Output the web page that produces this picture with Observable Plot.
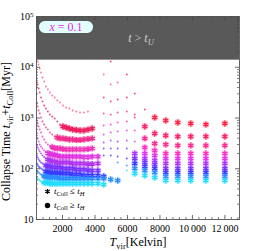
<!DOCTYPE html>
<html><head><meta charset="utf-8">
<script src="https://cdn.jsdelivr.net/npm/d3@7"></script>
<script src="https://cdn.jsdelivr.net/npm/@observablehq/plot@0.6"></script>
<style>
body{margin:0;background:#fff;}
#chart{width:258px;height:251px;}
svg{font-family:"Liberation Serif","DejaVu Serif",serif;}
</style></head><body><div id="chart"></div>
<script>
const _ = null;
// Virial temperature grid [K]
const tVir = [420, 470, 530, 600, 680, 770, 870, 980, 1100, 1230, 1370, 1520, 1680, 1850, 2030, 2220, 2420, 2630, 2850, 3080, 3320, 3570, 3830, 4180, 4540, 4970, 5400, 5960, 6450, 7070, 7680, 8360, 9100, 9900, 10830, 12000];
// t_vir + t_coll [Myr], one array per curve
const serA = [_, 12980, 11330, 9450, 7880, 6280, 5240, 4180, 3645, 3180, 2775, 2535, 2212, 2020, 1763, 1610, 1539, 1405, 1343, 1283, 1283, 1343, _, _, _, _, _, _, _, _, _, _, _, _, _, _];
const serB = [5480, 4570, 3815, 3180, 2535, 2114, 1763, 1539, 1343, 1172, 1070, 977, 853, 744, 680, 650, 621, 593, 580, 567, 567, 593, 621, _, _, _, _, _, _, _, _, _, _, _, _, _];
const serC = [1931, 1685, 1405, 1226, 1023, 853, 744, 650, 593, 518, 473, 432, 413, 395, 395, 386, 377, 377, 369, 369, 377, 386, 395, _, _, _, _, _, _, _, _, _, _, _, _, _];
const serD = [893, 779, 680, 593, 518, 432, 377, 329, 300, 281, 268, 256, 251, 251, 245, 240, 240, 240, 240, 240, 240, 245, 251, _, _, _, _, _, _, _, _, _, _, _, _, _];
const serE = [452, 395, 344, 300, 274, 251, 229, 214, 204, 195, 191, 187, 182, 174, 174, 174, 174, 174, 174, 174, 170, 170, 174, 174, _, _, _, _, _, _, _, _, _, _, _, _];
const serF = [287, 262, 240, 219, 200, 182, 170, 159, 152, 145, 142, 139, 133, 133, 133, 133, 133, 127, 127, 127, 127, 124, 124, 127, _, _, _, _, _, _, _, _, _, _, _, _];
const serG = [182, 167, 152, 142, 133, 127, 121, 116, 113, 111, 108, 106, 106, 106, 101, 101, 101, 101, 96.6, 96.6, 96.6, 94.5, 92.4, 92.4, _, _, _, _, _, _, _, _, _, _, _, _];
const serH = [127, 119, 111, 106, 101, 96.6, 92.4, 88.3, 86.3, 84.4, 82.5, 82.5, 82.5, 82.5, 80.6, 80.6, 80.6, 77.0, 77.0, 77.0, 73.6, 73.6, 73.6, 73.6, 70.4, _, _, _, _, _, _, _, _, _, _, _];
const serI = [92.4, 88.3, 84.4, 80.6, 77.0, 73.6, 72.0, 70.4, 68.8, 67.2, 67.2, 67.2, 67.2, 64.3, 64.3, 64.3, 64.3, 64.3, 64.3, 64.3, 64.3, 64.3, 64.3, 64.3, 64.3, 61.4, 58.7, _, _, _, _, _, _, _, _, _];
const serJ = [67.2, 64.3, 61.4, 58.7, 56.1, 53.6, 53.6, 53.6, 53.6, 51.2, 51.2, 51.2, 51.2, 51.2, 51.2, 51.2, 51.2, 51.2, 51.2, 51.2, 51.2, 51.2, 51.2, 51.2, 48.9, _, _, _, _, _, _, _, _, _, _, _];
const serS0 = [_, _, _, _, _, _, _, _, _, _, _, _, _, _, _, _, _, _, _, _, _, _, _, _, 7200, 4570, 5010, _, _, _, _, _, _, _, _, _];
const serS1 = [_, _, _, _, _, _, _, _, _, _, _, _, _, _, _, _, _, _, _, _, _, _, _, _, _, 12980, _, 7200, 3040, 1471, 1023, 893, 815, 779, 744, 779];
const serS2 = [_, _, _, _, _, _, _, _, _, _, _, _, _, _, _, _, _, _, _, _, _, _, _, _, 2535, 2114, 2315, 2535, 1172, 680, 495, 452, 432, 432, 432, 432];
const serS3 = [_, _, _, _, _, _, _, _, _, _, _, _, _, _, _, _, _, _, _, _, _, _, _, _, 1226, 1172, 1283, 1343, 1023, 395, 314, 300, 287, 287, 287, 287];
const serS4 = [_, _, _, _, _, _, _, _, _, _, _, _, _, _, _, _, _, _, _, _, _, _, _, _, 711, 744, 815, 853, 567, 262, 229, 200, 200, 200, 200, 200];
const serS5 = [_, _, _, _, _, _, _, _, _, _, _, _, _, _, _, _, _, _, _, _, _, _, _, _, 473, 518, 542, 567, 344, 200, 182, 159, 159, 159, 159, 159];
const serS6 = [_, _, _, _, _, _, _, _, _, _, _, _, _, _, _, _, _, _, _, _, _, _, _, _, 329, 360, 344, 360, 200, 159, 145, 127, 127, 127, 127, 127];
const serS7 = [_, _, _, _, _, _, _, _, _, _, _, _, _, _, _, _, _, _, _, _, _, _, _, _, 251, 251, 251, 251, 159, 133, 121, 101, 101, 101, 101, 101];
const serS8 = [_, _, _, _, _, _, _, _, _, _, _, _, _, _, _, _, _, _, _, _, _, _, _, _, 182, 182, 174, 159, 127, 111, 101, 84.4, 84.4, 84.4, 84.4, 84.4];
const serS9 = [_, _, _, _, _, _, _, _, _, _, _, _, _, _, _, _, _, _, _, _, _, _, _, _, _, _, 133, 116, 101, 92.4, 84.4, 70.4, 70.4, 70.4, 70.4, 70.4];
const serS10 = [_, _, _, _, _, _, _, _, _, _, _, _, _, _, _, _, _, _, _, _, _, _, _, _, _, _, _, 92.4, 80.6, 73.6, 67.2, 58.7, 58.7, 58.7, 58.7, 58.7];

const seriesNames = ["A", "B", "C", "D", "E", "F", "G", "H", "I", "J", "S0", "S1", "S2", "S3", "S4", "S5", "S6", "S7", "S8", "S9", "S10"];
const seriesValues = [serA, serB, serC, serD, serE, serF, serG, serH, serI, serJ, serS0, serS1, serS2, serS3, serS4, serS5, serS6, serS7, serS8, serS9, serS10];
// first grid index where t_Coll <= t_H (star marker)
const starFrom = [Infinity, 14, 12, 10, 8, 8, 7, 7, 6, 6, Infinity, 30, 29, 29, 29, 29, 28, 28, 28, 28, 28];
const seriesColors = ["#ff5a7c", "#ee1d5e", "#f02a8c", "#f032b8", "#e033e0", "#b033f0", "#7a33ff", "#3a3aff", "#2a8cff", "#22dcff",
                      "#ff5a7c", "#ff2244", "#ff2266", "#ff2a90", "#ff30c0", "#e233ee", "#b033ff", "#7a33ff", "#3a3aff", "#2a8cff", "#22dcff"];

const tUniverse = 13800;
const yDomain = [10, 100000];
const xDomain = [400, 12900];
const yTicks = [10, 100, 1000, 10000, 100000];
const xTicks = [2000, 4000, 6000, 8000, 10000, 12000];

const yMinor = [];
for (const d of [10, 100, 1000, 10000]) for (let k = 2; k <= 9; k++) yMinor.push(d * k);
const xMinor = [];
for (let t = 400; t <= 12800; t += 400) if (t % 2000 !== 0) xMinor.push(t);

const points = [];
seriesValues.forEach((vals, s) => vals.forEach((v, i) => {
  if (v != null) points.push({T: tVir[i], v, s: seriesNames[s], star: i >= starFrom[s]});
}));
const dotsPts = points.filter(d => !d.star);
const starPts = points.filter(d => d.star);

const W = 258, H = 251, mL = 36, mR = 19, mT = 16, mB = 32;
const pw = W - mL - mR, ph = H - mT - mB;
const tickCol = "#444";

const svg = Plot.plot({
  width: W, height: H,
  marginLeft: mL, marginRight: mR, marginTop: mT, marginBottom: mB,
  style: {fontFamily: '"Liberation Serif", "DejaVu Serif", serif', fontSize: "10px", background: "white", color: "black"},
  x: {domain: xDomain},
  y: {type: "log", domain: yDomain},
  color: {domain: seriesNames, range: seriesColors},
  marks: [
    Plot.dot(dotsPts, {x: "T", y: "v", r: 0.95, fill: "s", fillOpacity: 0.8}),
    Plot.dot(starPts, {x: "T", y: "v", r: 3.4, fill: "s", fillOpacity: 0.25}),
    Plot.dot(starPts, {x: "T", y: "v", r: 2.7, symbol: "asterisk", stroke: "s", strokeWidth: 1.4}),
    Plot.rect([{lo: tUniverse, hi: yDomain[1]}], {y1: "lo", y2: "hi", fill: "#595959"}),
    Plot.tickY(yTicks, {y: d => d, insetRight: pw - 4, stroke: tickCol, strokeWidth: 0.8}),
    Plot.tickY(yMinor, {y: d => d, insetRight: pw - 2, stroke: tickCol, strokeWidth: 0.7}),
    Plot.tickY(yTicks, {y: d => d, insetLeft: pw - 4, stroke: tickCol, strokeWidth: 0.8}),
    Plot.tickY(yMinor, {y: d => d, insetLeft: pw - 2, stroke: tickCol, strokeWidth: 0.7}),
    Plot.tickX(xTicks, {x: d => d, insetTop: ph - 4, stroke: tickCol, strokeWidth: 0.8}),
    Plot.tickX(xMinor, {x: d => d, insetTop: ph - 2, stroke: tickCol, strokeWidth: 0.7}),
    Plot.tickX(xTicks, {x: d => d, insetBottom: ph - 4, stroke: tickCol, strokeWidth: 0.8}),
    Plot.tickX(xMinor, {x: d => d, insetBottom: ph - 2, stroke: tickCol, strokeWidth: 0.7}),
    Plot.frame({stroke: "#555", strokeWidth: 0.9}),
    Plot.axisY({ticks: yTicks, tickSize: 0, tickPadding: 3, label: null, fontSize: 10,
      tickFormat: d => d === 10 ? "10" : "10^" + Math.round(Math.log10(d))}),
    Plot.axisX({ticks: xTicks, tickSize: 0, tickPadding: 5, label: null, fontSize: 10,
      tickFormat: d => d >= 10000 ? String(Math.floor(d / 1000)) + "\u2009" + String(d % 1000).padStart(3, "0") : String(d)}),
    Plot.dot([0], {frameAnchor: "bottom-left", dx: 11, dy: -28, symbol: "asterisk", r: 2.4, stroke: "black", strokeWidth: 1.3}),
    Plot.dot([0], {frameAnchor: "bottom-left", dx: 11, dy: -14, r: 2.7, fill: "black"})
  ]
});
document.getElementById("chart").appendChild(svg);

const S = d3.select(svg);
// superscript exponents on the y tick labels
S.selectAll('g[aria-label="y-axis tick label"] text').each(function() {
  const s = this.textContent;
  if (s.includes("^")) {
    const [b, e] = s.split("^");
    this.textContent = b;
    d3.select(this).append("tspan").attr("dy", "-0.45em").attr("font-size", "7px").text(e);
  }
});

function richText(x, y, parts, attrs) {
  const t = S.append("text").attr("x", x).attr("y", y).attr("text-anchor", "start");
  for (const [k, v] of Object.entries(attrs)) t.attr(k, v);
  let shift = 0;
  for (const p of parts) {
    const ts = t.append("tspan").text(p.t);
    if (p.i) ts.attr("font-style", "italic");
    const want = p.sub ? p.sub : 0;
    if (want !== shift) { ts.attr("dy", want - shift); shift = want; }
    if (p.fs) ts.attr("font-size", p.fs);
  }
  return t;
}

// inset label
S.append("rect").attr("x", 38.5).attr("y", 20.5).attr("width", 55).attr("height", 13).attr("rx", 6.5)
  .attr("fill", "#e2ffff").attr("stroke", "#444").attr("stroke-width", 0.8);
richText(66, 31, [{t: "x", i: true}, {t: " = 0.1"}], {"text-anchor": "middle", "font-size": 12, fill: "#ee22ee"});

// t > t_U in the grey band
richText(141, 42, [{t: "t", i: true}, {t: " > "}, {t: "t", i: true}, {t: "U", i: true, sub: 3, fs: 8.5}],
  {"text-anchor": "middle", "font-size": 12, fill: "#cfcfcf"});

// legend labels
richText(54, 194, [{t: "t", i: true}, {t: "Coll", sub: 2, fs: 6.5}, {t: " \u2264 "}, {t: "t", i: true}, {t: "H", i: true, sub: 2, fs: 6.5}],
  {"font-size": 9, fill: "black"});
richText(54, 208, [{t: "t", i: true}, {t: "Coll", sub: 2, fs: 6.5}, {t: " \u2265 "}, {t: "t", i: true}, {t: "H", i: true, sub: 2, fs: 6.5}],
  {"font-size": 9, fill: "black"});

// axis titles
richText(138, 246, [{t: "T", i: true}, {t: "vir", sub: 3, fs: 8.5}, {t: "[Kelvin]"}],
  {"text-anchor": "middle", "font-size": 12, fill: "black"});
richText(0, 0, [{t: "Collapse Time "}, {t: "t", i: true}, {t: "vir", sub: 3, fs: 8.5}, {t: "+"}, {t: "t", i: true}, {t: "Coll", sub: 3, fs: 8.5}, {t: "[Myr]"}],
  {"font-size": 12, fill: "black", transform: "translate(10,201) rotate(-90)"});
</script></body></html>
